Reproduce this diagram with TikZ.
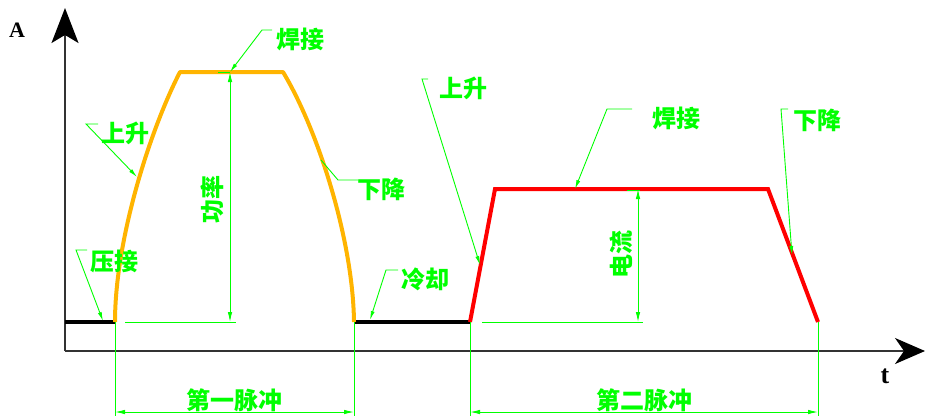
\documentclass[tikz,border=0pt]{standalone}
\usepackage{fontspec}
\setmainfont{Liberation Serif}
\newfontfamily\cjk{Noto Sans CJK SC}
\usetikzlibrary{arrows.meta}
\definecolor{lg}{HTML}{00FF00}
\definecolor{og}{HTML}{FFB400}
\begin{document}
\begin{tikzpicture}[x=1pt,y={(0pt,-1pt)},
  lbl/.style={text=lg, font=\cjk\bfseries\fontsize{24}{24}\selectfont, inner sep=0pt},
  axlbl/.style={text=black, font=\bfseries\fontsize{22}{22}\selectfont, inner sep=0pt},
  dim/.style={draw=lg, line width=0.9pt},
  dimarr/.style={dim, {Latex[length=10pt,width=4.5pt]}-{Latex[length=10pt,width=4.5pt]}},
  lead/.style={dim, -{Latex[length=9pt,width=4pt]}},
  axis/.style={line width=1.6pt, draw=black!80},
  base/.style={line width=4pt, draw=black},
  pulse/.style={line width=4pt}]
\useasboundingbox (0,0) rectangle (925,416);
% axes
\coordinate (O) at (65,351);
\coordinate (Ytip) at (65,8);
\coordinate (Xtip) at (925,351);
\draw[axis, -{Stealth[length=35pt,width=27pt,inset=8pt,color=black]}] (O) -- (Ytip);
\draw[axis, -{Stealth[length=30pt,width=26pt,inset=9pt,color=black]}] (O) -- (Xtip);
\node[axlbl] (lA) at (17,30) {A};
\node[axlbl, font=\bfseries\fontsize{26}{26}\selectfont] (lt) at (885,376) {t};
% key points
\coordinate (b0) at (65,322);
\coordinate (p1s) at (115,322);
\coordinate (p1a) at (180,72);
\coordinate (p1b) at (283,72);
\coordinate (p1e) at (354,322);
\coordinate (b1) at (470,322);
\coordinate (p2a) at (495,189);
\coordinate (p2b) at (768,189);
\coordinate (p2e) at (818,322);
% baselines
\draw[base] (b0) -- (p1s);
\draw[base] (p1e) -- (b1);
% pulses
\draw[pulse, draw=og, line join=round] (p1s) .. controls (115,240) and (150,130) .. (p1a) -- (p1b) .. controls (318,130) and (353,240) .. (p1e);
\draw[pulse, draw=red, line join=miter] (b1) -- (p2a) -- (p2b) -- (p2e);
% dimension: power
\coordinate (d1t) at (230,72);
\coordinate (d1b) at (230,322);
\draw[dimarr] (d1t) -- (d1b);
\coordinate (e1a) at (218,72);
\draw[dim] (e1a) -- (d1t);
\coordinate (e1b) at (125,322);
\coordinate (e1c) at (236,322);
\draw[dim] (e1b) -- (e1c);
\node[lbl, rotate=90] (gl) at (212,199) {功率};
% dimension: current
\coordinate (d2t) at (638,189);
\coordinate (d2b) at (638,322);
\draw[dimarr] (d2t) -- (d2b);
\coordinate (e2a) at (627,190);
\coordinate (e2a2) at (640,190);
\draw[dim] (e2a) -- (e2a2);
\coordinate (e2b) at (482,322);
\coordinate (e2c) at (643,322);
\draw[dim] (e2b) -- (e2c);
\node[lbl, rotate=90] (dl) at (621,254) {电流};
% extension lines
\coordinate (x1) at (115,416);
\coordinate (x2) at (354,416);
\coordinate (x3) at (470,416);
\coordinate (x4) at (818,416);
\draw[dim] (p1s) -- (x1);
\draw[dim] (p1e) -- (x2);
\draw[dim] (b1) -- (x3);
\draw[dim] (p2e) -- (x4);
\coordinate (h1a) at (115,412);
\coordinate (h1b) at (354,412);
\coordinate (h2a) at (470,412);
\coordinate (h2b) at (818,412);
\draw[dimarr] (h1a) -- (h1b);
\draw[dimarr] (h2a) -- (h2b);
\node[lbl] (pulse1) at (234,400) {第一脉冲};
\node[lbl] (pulse2) at (644,400) {第二脉冲};
% leaders and labels
\node[lbl] (hj1) at (300,39) {焊接};
\coordinate (hj1a) at (272,30); \coordinate (hj1b) at (262,30); \coordinate (hj1t) at (230,72);
\draw[lead] (hj1a) -- (hj1b) -- (hj1t);
\node[lbl] (ss1) at (125,133) {上升};
\coordinate (ss1a) at (98,124); \coordinate (ss1b) at (86,124); \coordinate (ss1t) at (137,177);
\draw[lead] (ss1a) -- (ss1b) -- (ss1t);
\node[lbl] (xj1) at (381,189) {下降};
\coordinate (xj1a) at (358,180); \coordinate (xj1b) at (338,180); \coordinate (xj1t) at (321,160);
\draw[dim] (xj1a) -- (xj1b) -- (xj1t);
\node[lbl] (yj) at (114,261) {压接};
\coordinate (yja) at (87,250); \coordinate (yjb) at (76,250); \coordinate (yjt) at (103,321);
\draw[lead] (yja) -- (yjb) -- (yjt);
\node[lbl] (lq) at (425,279) {冷却};
\coordinate (lqa) at (398,270); \coordinate (lqb) at (386,270); \coordinate (lqt) at (370,320);
\draw[lead] (lqa) -- (lqb) -- (lqt);
\node[lbl] (ss2) at (463,88) {上升};
\coordinate (ss2a) at (428,79); \coordinate (ss2b) at (422,79); \coordinate (ss2t) at (480,265);
\draw[lead] (ss2a) -- (ss2b) -- (ss2t);
\node[lbl] (hj2) at (676,118) {焊接};
\coordinate (hj2a) at (632,109); \coordinate (hj2b) at (607,109); \coordinate (hj2t) at (575,189);
\draw[lead] (hj2a) -- (hj2b) -- (hj2t);
\node[lbl] (xj2) at (817,120) {下降};
\coordinate (xj2a) at (788,109); \coordinate (xj2b) at (781,109); \coordinate (xj2t) at (792,255);
\draw[lead] (xj2a) -- (xj2b) -- (xj2t);
\end{tikzpicture}
\end{document}
